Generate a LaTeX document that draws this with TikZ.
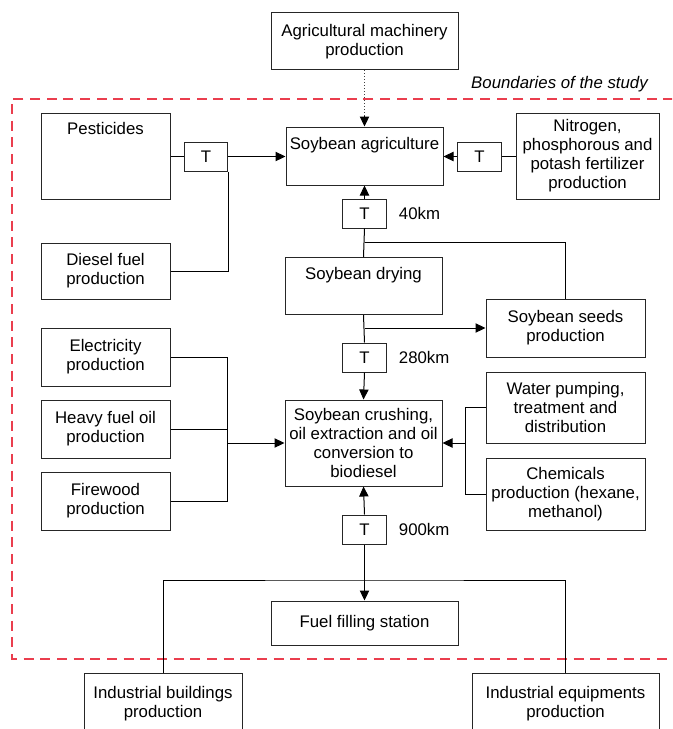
\documentclass[tikz,border=0pt]{standalone}
\usepackage{fontspec}
\setmainfont{Liberation Sans}
\usetikzlibrary{arrows.meta}
\definecolor{bndred}{RGB}{234,62,78}
\begin{document}
\begin{tikzpicture}[x=0.75pt,y=-0.75pt,
  box/.style={draw=black!85, line width=0.75pt, fill=white, align=center, inner sep=1pt,
     font=\fontsize{12.6}{14.3}\selectfont},
  tbox/.style={box, minimum width=32.5pt, minimum height=21.75pt},
  lbl/.style={anchor=west, inner sep=0pt, font=\fontsize{12.6}{14.3}\selectfont},
  conn/.style={line width=0.75pt, black},
  arr/.style={conn, -{Triangle[length=7.5pt,width=7pt]}},
]
\useasboundingbox (0,0) rectangle (672,729);
\clip (0,0) rectangle (672,729);

% boundary of the study
\draw[bndred, line width=1.5pt, dash pattern=on 7.5pt off 5pt] (690,98.7) -- (12,98.7) -- (12,659) -- (690,659);
\node[lbl, anchor=center, font=\fontsize{12.6}{14.3}\selectfont\itshape] (bnd) at (559.5,84) {Boundaries of the study};

% boxes
\node[box, minimum width=140.25pt, minimum height=43pt] (agm) at (364.5,41.3) {Agricultural machinery\\production};
\node[box, anchor=north, minimum width=96.75pt, inner ysep=0pt, text height=15.75pt, text depth=48.75pt] (pest) at (105.5,113) {Pesticides};
\node[tbox] (tA) at (206,156.5) {T};
\node[box, minimum width=117.75pt, minimum height=43.5pt, inner ysep=0pt, text height=16.5pt, text depth=27pt] (agri) at (364.5,156) {Soybean agriculture};
\node[tbox] (tB) at (479.5,156.5) {T};
\node[box, minimum width=107.25pt, minimum height=64.5pt] (nitro) at (587.5,156) {Nitrogen,\\phosphorous and\\potash fertilizer\\production};
\node[tbox] (t40) at (364.5,213.5) {T};
\node[lbl] (l40) at ([xshift=9pt]t40.east) {40km};
\node[box, minimum width=96.75pt, minimum height=42pt] (diesel) at (105.5,271) {Diesel fuel\\production};
\node[box, anchor=north, minimum width=117.75pt, inner ysep=0pt, text height=16.5pt, text depth=26.25pt] (drying) at (363.5,257) {Soybean drying};
\node[box, minimum width=119.25pt, minimum height=43.5pt] (seeds) at (565.5,328) {Soybean seeds\\production};
\node[tbox] (t280) at (364.5,357.5) {T};
\node[lbl] (l280) at ([xshift=9pt]t280.east) {280km};
\node[box, minimum width=96.75pt, minimum height=43.5pt] (elec) at (105.5,357) {Electricity\\production};
\node[box, minimum width=96.75pt, minimum height=43.5pt] (heavy) at (105.5,429) {Heavy fuel oil\\production};
\node[box, minimum width=96.75pt, minimum height=43.5pt] (fire) at (105.5,501) {Firewood\\production};
\node[box, minimum width=117.75pt, minimum height=64.5pt] (crush) at (363.5,443) {Soybean crushing,\\oil extraction and oil\\conversion to\\biodiesel};
\node[box, minimum width=119.25pt, minimum height=53.25pt] (water) at (565.5,407.5) {Water pumping,\\treatment and\\distribution};
\node[box, minimum width=119.25pt, minimum height=54pt] (chem) at (565.5,494) {Chemicals\\production (hexane,\\methanol)};
\node[tbox] (t900) at (364.5,529.5) {T};
\node[lbl] (l900) at ([xshift=9pt]t900.east) {900km};
\node[box, minimum width=140.25pt, minimum height=33pt] (fuel) at (364.5,623) {Fuel filling station};
\node[box, minimum width=118.5pt, minimum height=46.5pt] (indb) at (163,704) {Industrial buildings\\production};
\node[box, minimum width=140.25pt, minimum height=46.5pt] (inde) at (565.5,704) {Industrial equipments\\production};

% junction coordinates
\coordinate (j40) at (364.5,242);
\coordinate (jseed) at (364.5,328);
\coordinate (jL) at (227.5,443);
\coordinate (jR) at (465,443);
\coordinate (jB) at (364.5,580);
\coordinate (jtop) at (364.5,116);

% connectors
\draw[line width=0.75pt, black!75, dash pattern=on 0.75pt off 1.5pt] (agm.south) -- (jtop);
\draw[arr] (jtop) -- (agri.north);
\draw[conn] (pest.east |- tA.west) -- (tA.west);
\draw[arr] (tA.east) -- (agri.west |- tA.east);
\draw[conn] (diesel.east) -| (tA.south east);
\draw[conn] (nitro.west |- tB.east) -- (tB.east);
\draw[arr] (tB.west) -- (agri.east |- tB.west);
\draw[arr] (t40.north) -- (agri.south);
\draw[conn] (drying.north) -- (t40.south);
\draw[conn] (j40) -| (seeds.north);
\draw[conn] (drying.south) -- (t280.north);
\draw[arr] (jseed) -- (seeds.west);
\draw[arr] (t280.south) -- (crush.north);
\draw[conn] (elec.east) -| (jL);
\draw[conn] (fire.east) -| (jL);
\draw[conn] (heavy.east) -- (heavy.east -| jL);
\draw[arr] (jL) -- (crush.west);
\draw[conn] (water.west) -| (jR);
\draw[conn] (chem.west) -| (jR);
\draw[arr] (jR) -- (crush.east);
\draw[arr] (t900.north) -- (crush.south);
\draw[arr] (t900.south) -- (fuel.north);
\draw[conn] (indb.north) |- (jB) -| (inde.north);
\end{tikzpicture}
\end{document}
